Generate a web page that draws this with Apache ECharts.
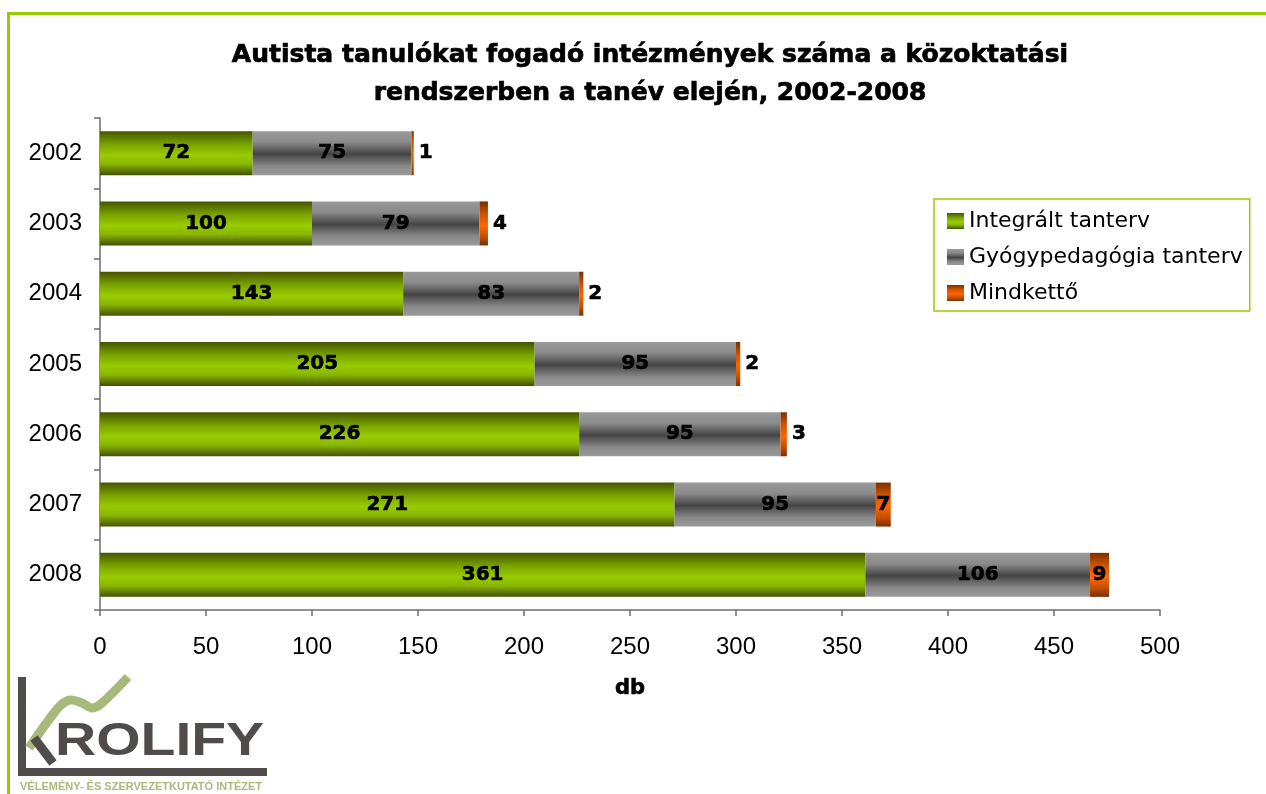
<!DOCTYPE html>
<html>
<head>
<meta charset="utf-8">
<script src="https://cdn.jsdelivr.net/npm/echarts@6/dist/echarts.min.js"></script>
<style>
  html, body { margin: 0; padding: 0; background: #fff; }
  #chart { width: 1266px; height: 794px; }
</style>
</head>
<body>
<div id="chart"></div>
<script>
// years (top to bottom)
const years = ['2002', '2003', '2004', '2005', '2006', '2007', '2008']
// Integrált tanterv
const integralt = [72, 100, 143, 205, 226, 271, 361]
// Gyógypedagógia tanterv
const gyogyped = [75, 79, 83, 95, 95, 95, 106]
// Mindkettő
const mindketto = [1, 4, 2, 2, 3, 7, 9]
const xTicks = { min: 0, max: 500, interval: 50 }

const labelFont = 'DejaVu Sans'
const axisFont = 'Liberation Sans'
const frameGreen = '#99cc00'
const logoGray = '#4f4c4b'
const logoGreen = '#a8b97c'

function vGrad(stops) {
  return new echarts.graphic.LinearGradient(0, 0, 0, 1,
    stops.map(([offset, color]) => ({ offset, color })))
}

const greenFill = vGrad([[0, '#465400'], [0.3, '#7aa300'], [0.55, '#99cc00'], [0.75, '#88b500'], [1, '#435100']])
const grayFill = vGrad([[0, '#9a9a9a'], [0.25, '#8a8a8a'], [0.52, '#444444'], [0.8, '#8a8a8a'], [1, '#9a9a9a']])
const orangeFill = vGrad([[0, '#783000'], [0.3, '#d45500'], [0.55, '#ff6600'], [0.8, '#c44e00'], [1, '#783000']])

const barLabel = {
  show: true,
  position: 'inside',
  color: '#000',
  fontFamily: labelFont,
  fontWeight: 'bold',
  fontSize: 20,
  textBorderColor: '#000',
  textBorderWidth: 0.6,
}

const chart = echarts.init(document.getElementById('chart'), null, { renderer: 'canvas' })

chart.setOption({
  backgroundColor: '#fff',
  animation: false,
  title: {
    text: 'Autista tanulókat fogadó intézmények száma a közoktatási\nrendszerben a tanév elején, 2002-2008',
    left: 645,
    top: 31,
    textAlign: 'center',
    textStyle: {
      fontFamily: labelFont,
      fontWeight: 'bold',
      fontSize: 25,
      lineHeight: 38,
      color: '#000',
      textBorderColor: '#000',
      textBorderWidth: 0.7,
    },
  },
  legend: {
    orient: 'vertical',
    left: 934,
    top: 199,
    padding: [10, 7, 6, 13],
    itemWidth: 17,
    itemHeight: 16,
    itemGap: 12,
    icon: 'rect',
    borderColor: frameGreen,
    borderWidth: 1.5,
    textStyle: { fontFamily: labelFont, fontSize: 22, lineHeight: 24, color: '#000' },
    data: ['Integrált tanterv', 'Gyógypedagógia tanterv', 'Mindkettő'],
  },
  grid: { left: 100, right: 106, top: 118, bottom: 184, containLabel: false },
  xAxis: {
    type: 'value',
    min: xTicks.min,
    max: xTicks.max,
    interval: xTicks.interval,
    axisLine: { show: true, lineStyle: { color: '#6e6e6e', width: 1.5 } },
    axisTick: { show: true, length: 6, lineStyle: { color: '#6e6e6e', width: 1.5 } },
    splitLine: { show: false },
    axisLabel: { fontFamily: axisFont, fontSize: 24, color: '#000', margin: 25 },
    name: 'db',
    nameLocation: 'middle',
    nameGap: 68,
    nameTextStyle: {
      fontFamily: labelFont, fontWeight: 'bold', fontSize: 21, color: '#000',
      textBorderColor: '#000', textBorderWidth: 0.6,
    },
  },
  yAxis: {
    type: 'category',
    inverse: true,
    data: years,
    axisLine: { show: true, lineStyle: { color: '#6e6e6e', width: 1.5 } },
    axisTick: { show: true, length: 6, lineStyle: { color: '#6e6e6e', width: 1.5 } },
    axisLabel: { fontFamily: axisFont, fontSize: 24, color: '#000', margin: 18 },
  },
  series: [
    {
      name: 'Integrált tanterv',
      type: 'bar',
      stack: 'total',
      barWidth: 44,
      data: integralt,
      itemStyle: { color: greenFill },
      label: barLabel,
    },
    {
      name: 'Gyógypedagógia tanterv',
      type: 'bar',
      stack: 'total',
      barWidth: 44,
      data: gyogyped,
      itemStyle: { color: grayFill },
      label: barLabel,
    },
    {
      name: 'Mindkettő',
      type: 'bar',
      stack: 'total',
      barWidth: 44,
      data: mindketto.map(v => ({
        value: v,
        label: { position: v >= 5 ? 'inside' : 'right', distance: 5 },
      })),
      itemStyle: { color: orangeFill },
      label: barLabel,
    },
  ],
  graphic: [
    // green frame
    { type: 'rect', shape: { x: 7, y: 12, width: 1259, height: 3 }, style: { fill: frameGreen }, silent: true },
    { type: 'rect', shape: { x: 7, y: 12, width: 3, height: 782 }, style: { fill: frameGreen }, silent: true },
    // logo
    { type: 'rect', shape: { x: 18, y: 677, width: 8, height: 99 }, style: { fill: logoGray }, silent: true },
    { type: 'rect', shape: { x: 18, y: 768, width: 249, height: 8 }, style: { fill: logoGray }, silent: true },
    {
      type: 'polyline',
      shape: { points: [[29, 748], [58, 708], [70, 700], [82, 703], [92, 708], [102, 703], [128, 677]], smooth: 0.3 },
      style: { stroke: logoGreen, lineWidth: 9, fill: null },
      silent: true,
    },
    {
      type: 'polyline',
      shape: { points: [[34, 738], [53, 763]] },
      style: { stroke: logoGray, lineWidth: 9, fill: null },
      silent: true,
    },
    {
      type: 'text',
      x: 55,
      y: 719,
      scaleX: 1.24,
      style: {
        text: 'ROLIFY',
        font: 'bold 46px "Liberation Sans"',
        fill: logoGray,
        textVerticalAlign: 'top',
      },
      silent: true,
    },
    {
      type: 'text',
      x: 20,
      y: 787,
      style: {
        text: 'VÉLEMÉNY- ÉS SZERVEZETKUTATÓ INTÉZET',
        font: 'bold 11px "Liberation Sans"',
        fill: logoGreen,
        textVerticalAlign: 'middle',
      },
      silent: true,
    },
  ],
})
</script>
</body>
</html>
